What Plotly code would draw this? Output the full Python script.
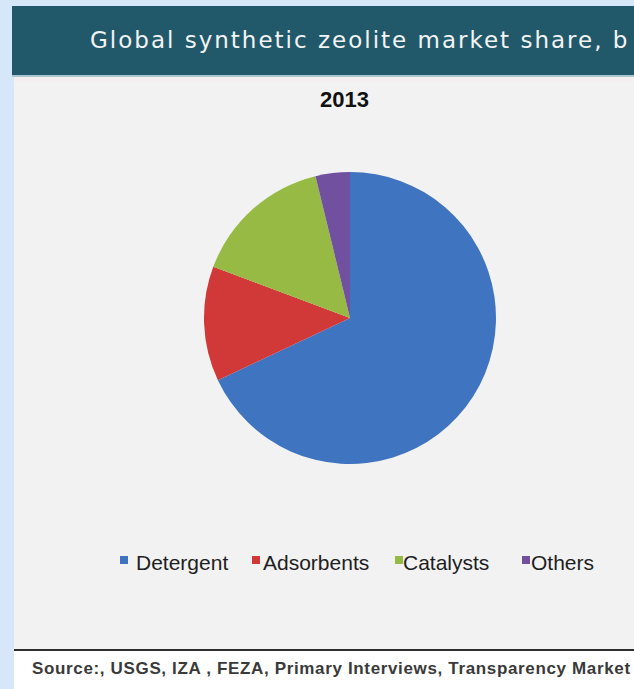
import plotly.graph_objects as go

W, H = 634, 689

# Chart data
categories = ["Detergent", "Adsorbents", "Catalysts", "Others"]
shares = [68.0, 12.7, 15.5, 3.8]
colors = ["#3E74C0", "#D13838", "#97BA44", "#7250A0"]
year_label = "2013"
title_text = "Global synthetic zeolite market share, b"
source_text = "Source:, USGS, IZA , FEZA, Primary Interviews, Transparency Market"

# Legend entry placement (pixels from left edge)
legend_square_x = [120, 252, 395, 522]
legend_text_x = [134, 261, 401, 529]


def px(x):
    return x / W


def py(y):
    return 1 - y / H


cx, cy, r = 350, 318, 146

fig = go.Figure(
    go.Pie(
        labels=categories,
        values=shares,
        sort=False,
        direction="clockwise",
        rotation=0,
        marker=dict(colors=colors, line=dict(width=0)),
        textinfo="none",
        hoverinfo="label+percent",
        showlegend=False,
        domain=dict(x=[px(cx - r), px(cx + r)], y=[py(cy + r), py(cy - r)]),
    )
)


def rect(x0, y0, x1, y1, color):
    return dict(
        type="rect", xref="paper", yref="paper",
        x0=px(x0), x1=px(x1), y0=py(y1), y1=py(y0),
        fillcolor=color, line=dict(width=0), layer="below",
    )


shapes = [
    # header band
    rect(12, 6, W, 75, "#22596A"),
    rect(12, 75, W, 77, "#A9C6D0"),
    # chart panel
    rect(14, 77, W, 649, "#F2F2F2"),
    rect(14, 77, W, 82, "#F5EEEE"),
    # separator and footer
    rect(14, 649, W, 651, "#2E2E2E"),
    rect(14, 651, W, H, "#FFFFFF"),
]

annotations = [
    dict(
        text=f'<span style="letter-spacing:2px">{title_text}</span>',
        x=px(88), y=py(40), xref="paper", yref="paper",
        xanchor="left", yanchor="middle", showarrow=False,
        font=dict(family="DejaVu Sans", size=23, color="#F2F4F5"),
    ),
    dict(
        text=f"<b>{year_label}</b>",
        x=px(344), y=py(99), xref="paper", yref="paper",
        xanchor="center", yanchor="middle", showarrow=False,
        font=dict(family="Liberation Sans", size=22, color="#111111"),
    ),
    dict(
        text=f'<span style="letter-spacing:0.65px"><b>{source_text}</b></span>',
        x=px(30), y=py(668), xref="paper", yref="paper",
        xanchor="left", yanchor="middle", showarrow=False,
        font=dict(family="Liberation Sans", size=17, color="#3A3A3A"),
    ),
]

for label, color, sx, tx in zip(categories, colors, legend_square_x, legend_text_x):
    shapes.append(rect(sx, 556, sx + 8, 564, color))
    annotations.append(
        dict(
            text=label,
            x=px(tx), y=py(562), xref="paper", yref="paper",
            xanchor="left", yanchor="middle", showarrow=False,
            font=dict(family="Liberation Sans", size=21, color="#1E1E1E"),
        )
    )

fig.update_layout(
    width=W, height=H,
    margin=dict(l=0, r=0, t=0, b=0),
    paper_bgcolor="#D5E7F8",
    plot_bgcolor="rgba(0,0,0,0)",
    shapes=shapes,
    annotations=annotations,
    showlegend=False,
)

fig.write_html("out.html")
